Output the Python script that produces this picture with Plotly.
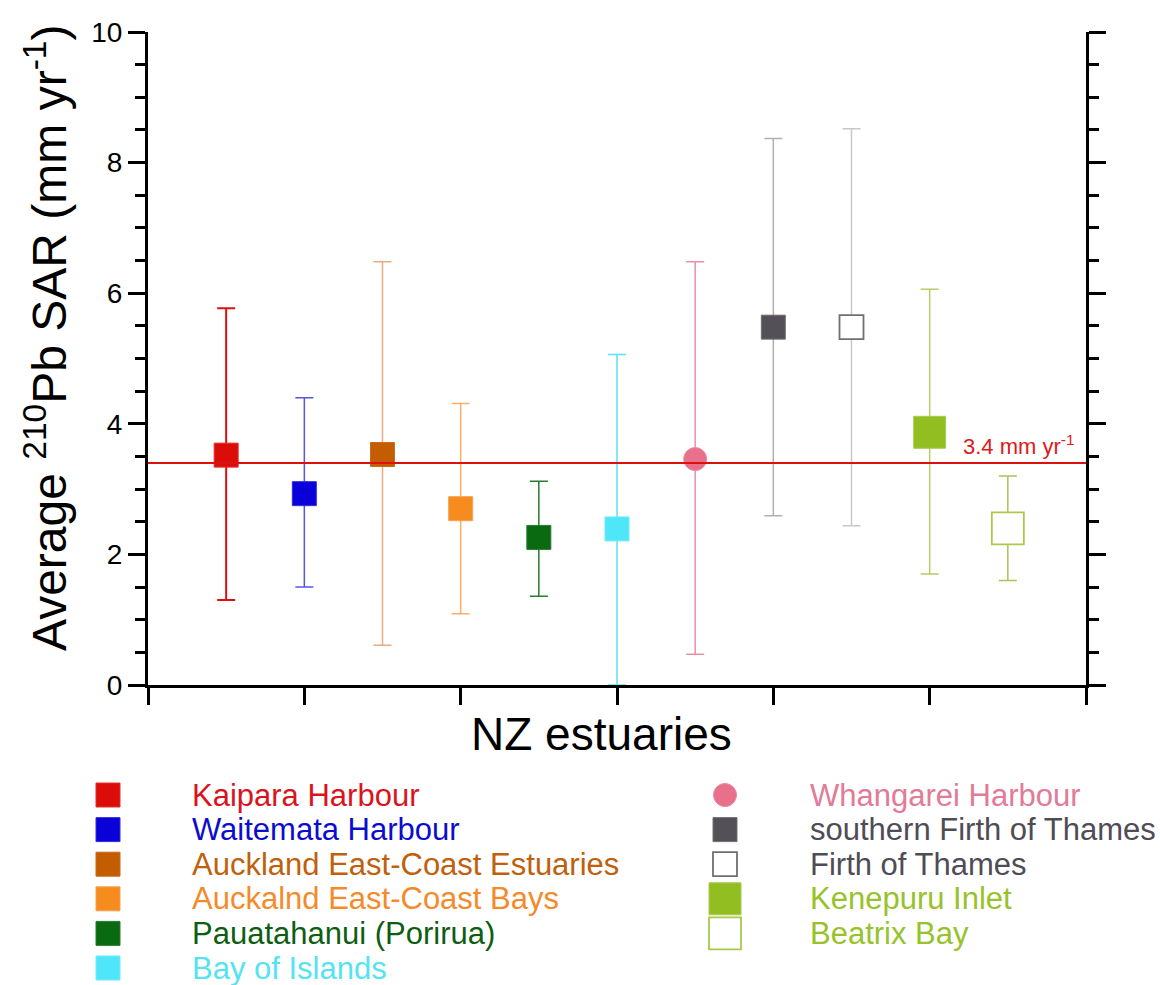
import plotly.graph_objects as go

# ---- data -------------------------------------------------------------
estuaries = [
    "Kaipara Harbour",
    "Waitemata Harbour",
    "Auckland East-Coast Estuaries",
    "Auckalnd East-Coast Bays",
    "Pauatahanui (Porirua)",
    "Bay of Islands",
    "Whangarei Harbour",
    "southern Firth of Thames",
    "Firth of Thames",
    "Kenepuru Inlet",
    "Beatrix Bay",
]
sar_mean = [3.52, 2.93, 3.53, 2.70, 2.26, 2.39, 3.46, 5.48, 5.48, 3.87, 2.40]
sar_upper = [5.77, 4.40, 6.48, 4.31, 3.12, 5.06, 6.48, 8.37, 8.52, 6.06, 3.20]
sar_lower = [1.30, 1.50, 0.61, 1.09, 1.36, 0.00, 0.47, 2.59, 2.44, 1.70, 1.60]
reference_rate = 3.4
y_ticks = [0, 2, 4, 6, 8, 10]

# ---- styling ----------------------------------------------------------
symbols = ["square"] * 6 + ["circle"] + ["square"] * 4
fill = ["#DC0C08", "#0A00D8", "#C45C00", "#F78C1E", "#0A6A12", "#4EE6F8",
        "#E8708A", "#545058", "#FFFFFF", "#92BE22", "#FFFFFF"]
edge = ["#E23030", "#3030E0", "#C86A20", "#F8A050", "#2A7A30", "#70ECF8",
        "#E88AA0", "#707070", "#707070", "#A8CC50", "#A8C84E"]
edge_w = [1, 1, 1, 1, 1, 1, 1, 1, 1.8, 1, 1.8]
sizes = [24, 24, 24, 24, 24, 24, 23, 24, 24, 32, 32]
err_col = ["#DC1010", "#5555E0", "#E8AA80", "#FFAE66", "#2A7A30", "#55E5F5",
           "#E890A8", "#AFAFAF", "#C8C8C8", "#B5CC6A", "#A9C454"]
err_w = [2, 1.5, 1.5, 1.5, 1.5, 1.5, 1.5, 1.5, 1.5, 1.5, 1.5]
text_col = ["#D9141C", "#0C0CCF", "#C0600C", "#F58A2A", "#0E5E12", "#55E3F2",
            "#E27A98", "#4F4C55", "#4F4C55", "#98C22A", "#98C22A"]

FONT = "Arial, 'Liberation Sans', sans-serif"
W, H = 1160, 985
# plot area in pixels
PX0, PX1, PY0, PY1 = 148, 1086, 32, 685

fig = go.Figure()

for i, name in enumerate(estuaries):
    fig.add_trace(go.Scatter(
        x=[i + 1], y=[sar_mean[i]],
        mode="markers",
        name=name,
        showlegend=False,
        marker=dict(symbol=symbols[i], size=sizes[i], color=fill[i],
                    opacity=1,
                    line=dict(color=edge[i], width=edge_w[i])),
        error_y=dict(type="data", symmetric=False,
                     array=[sar_upper[i] - sar_mean[i]],
                     arrayminus=[sar_mean[i] - sar_lower[i]],
                     color=err_col[i], thickness=err_w[i], width=9),
        xaxis="x", yaxis="y",
    ))

# reference rate line
fig.add_shape(type="line", xref="x domain", yref="y",
              x0=0, x1=1, y0=reference_rate, y1=reference_rate,
              line=dict(color="#DD1010", width=2), layer="above")
fig.add_annotation(xref="x", yref="y", x=10.4, y=reference_rate,
                   xanchor="left", yanchor="bottom", yshift=2,
                   text=f"{reference_rate} mm yr<sup>-1</sup>", showarrow=False,
                   font=dict(family=FONT, size=22, color="#E01818"))

# ---- key below the chart (drawn on a pixel-scaled helper axis) --------
col_marker_x = [108, 725]
col_text_x = [190, 808]
row_y0, row_step = 795, 34.6
key_x, key_y = [], []
for i, name in enumerate(estuaries):
    col = 0 if i < 6 else 1
    row = i if i < 6 else i - 6
    key_x.append(col_marker_x[col])
    key_y.append(row_y0 + row * row_step)
    fig.add_annotation(xref="x2", yref="y2", x=col_text_x[col], y=key_y[-1],
                       xanchor="left", yanchor="middle", text=name,
                       showarrow=False,
                       font=dict(family=FONT, size=31, color=text_col[i]))

fig.add_trace(go.Scatter(
    x=key_x, y=key_y, mode="markers", showlegend=False, hoverinfo="skip",
    marker=dict(symbol=symbols, size=sizes, color=fill, opacity=1,
                line=dict(color=edge, width=edge_w)),
    xaxis="x2", yaxis="y2",
))

# axis titles
fig.add_annotation(xref="paper", yref="paper", x=46 / W, y=1 - 338 / H,
                   xanchor="center", yanchor="middle", textangle=-90,
                   text="Average <sup>210</sup>Pb SAR (mm yr<sup>-1</sup>)",
                   showarrow=False, font=dict(family=FONT, size=48, color="black"))
fig.add_annotation(xref="paper", yref="paper", x=601 / W, y=1 - 734 / H,
                   xanchor="center", yanchor="middle", text="NZ estuaries",
                   showarrow=False, font=dict(family=FONT, size=46, color="black"))

fig.update_layout(
    width=W, height=H,
    margin=dict(l=0, r=0, t=0, b=0, autoexpand=False),
    paper_bgcolor="white", plot_bgcolor="rgba(0,0,0,0)",
    showlegend=False,
    xaxis=dict(domain=[PX0 / W, PX1 / W], range=[0, 12],
               tickvals=[0, 2, 4, 6, 8, 10, 12], showticklabels=False,
               ticks="outside", ticklen=17, tickwidth=3, tickcolor="black",
               showline=True, linecolor="black", linewidth=3,
               showgrid=False, zeroline=False, anchor="y", mirror=False),
    yaxis=dict(domain=[1 - PY1 / H, 1 - PY0 / H], range=[0, 10],
               tickvals=y_ticks, ticks="outside", ticklen=17, tickwidth=3,
               tickcolor="black",
               minor=dict(dtick=0.5, ticks="outside", ticklen=10,
                          tickwidth=3, tickcolor="black", showgrid=False),
               tickfont=dict(family=FONT, size=28, color="black"),
               showline=True, linecolor="black", linewidth=3, mirror="ticks",
               showgrid=False, zeroline=False, anchor="x"),
    xaxis2=dict(domain=[0, 1], range=[0, W], visible=False, anchor="y2",
                fixedrange=True),
    yaxis2=dict(domain=[0, 1], range=[H, 0], visible=False, anchor="x2",
                fixedrange=True),
)

fig.write_html("out.html")
